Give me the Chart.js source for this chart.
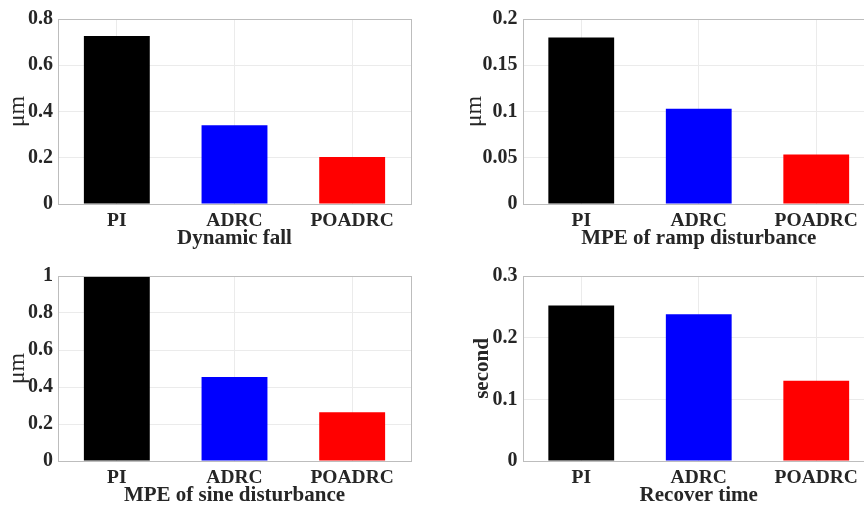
<!DOCTYPE html>
<html>
<head>
<meta charset="utf-8">
<script src="https://cdn.jsdelivr.net/npm/chart.js@4.4.1/dist/chart.umd.min.js"></script>
<style>
  html, body { margin: 0; padding: 0; background: #fff; }
  body { position: relative; width: 864px; height: 505px; overflow: hidden; }
  .panel { position: absolute; width: 440px; height: 260px; }
</style>
</head>
<body>
<div class="panel" style="left:0;top:0"><canvas id="fallChart" width="440" height="260"></canvas></div>
<div class="panel" style="left:440px;top:0"><canvas id="rampChart" width="440" height="260"></canvas></div>
<div class="panel" style="left:0;top:257px"><canvas id="sineChart" width="440" height="260"></canvas></div>
<div class="panel" style="left:440px;top:257px"><canvas id="recoverChart" width="440" height="260"></canvas></div>
<script>
const controllers = ['PI', 'ADRC', 'POADRC'];
const barColors = ['#000000', '#0000ff', '#ff0000'];

const fallValues = [0.727, 0.341, 0.203];
const rampValues = [0.180, 0.103, 0.0535];
const sineValues = [0.997, 0.454, 0.264];
const recoverValues = [0.252, 0.238, 0.130];

const fallTicks = [0, 0.2, 0.4, 0.6, 0.8];
const rampTicks = [0, 0.05, 0.1, 0.15, 0.2];
const sineTicks = [0, 0.2, 0.4, 0.6, 0.8, 1];
const recoverTicks = [0, 0.1, 0.2, 0.3];

const serif = "'Liberation Serif', 'Times New Roman', serif";

// matlab-like box around the axes
const framePlugin = {
  id: 'frame',
  afterDraw(chart) {
    const { ctx, chartArea: a } = chart;
    ctx.save();
    ctx.strokeStyle = '#bdbdbd';
    ctx.lineWidth = 1;
    ctx.strokeRect(Math.round(a.left) + 0.5, Math.round(a.top) + 0.5,
      Math.round(a.right - a.left), Math.round(a.bottom - a.top));
    ctx.restore();
  }
};

const makePanel = (id, values, ticks, yLabel, xLabel, side) => {
  const left = side === 'left';
  return new Chart(document.getElementById(id), {
    type: 'bar',
    data: {
      labels: controllers,
      datasets: [{
        data: values,
        backgroundColor: barColors,
        borderWidth: 0,
        categoryPercentage: 1,
        barPercentage: 0.56
      }]
    },
    options: {
      responsive: false,
      animation: false,
      layout: { padding: { top: 19, right: left ? 29 : 5, left: 0, bottom: 0 } },
      plugins: { legend: { display: false }, tooltip: { enabled: false } },
      scales: {
        x: {
          afterFit: (scale) => { scale.height = 56; },
          grid: { color: '#ebebeb', offset: false, drawTicks: false },
          border: { display: false },
          ticks: {
            padding: 5,
            color: '#262626',
            font: { family: serif, size: 19.5, weight: 'bold' }
          },
          title: {
            display: true,
            text: xLabel,
            color: '#262626',
            padding: { top: 0, bottom: 9 },
            font: { family: serif, size: 21, weight: 'bold' }
          }
        },
        y: {
          min: 0,
          max: ticks[ticks.length - 1],
          afterFit: (scale) => { scale.width = left ? 58 : 82.5; },
          afterBuildTicks: (scale) => { scale.ticks = ticks.map((v) => ({ value: v })); },
          grid: { color: '#ebebeb', drawTicks: false },
          border: { display: false },
          ticks: {
            padding: 5,
            color: '#262626',
            font: { family: serif, size: 20, weight: 'bold' },
            callback: (v) => String(+v.toFixed(2))
          },
          title: {
            display: true,
            text: yLabel.text,
            color: '#262626',
            padding: { top: yLabel.pad, bottom: 0 },
            font: { family: serif, size: yLabel.size, weight: yLabel.weight }
          }
        }
      }
    },
    plugins: [framePlugin]
  });
};

makePanel('fallChart', fallValues, fallTicks, { text: 'μm', pad: 3, size: 24, weight: 'normal' }, 'Dynamic fall', 'left');
makePanel('rampChart', rampValues, rampTicks, { text: 'μm', pad: 20, size: 24, weight: 'normal' }, 'MPE of ramp disturbance', 'right');
makePanel('sineChart', sineValues, sineTicks, { text: 'μm', pad: 3, size: 24, weight: 'normal' }, 'MPE of sine disturbance', 'left');
makePanel('recoverChart', recoverValues, recoverTicks, { text: 'second', pad: 30, size: 21, weight: 'bold' }, 'Recover time', 'right');
</script>
</body>
</html>
